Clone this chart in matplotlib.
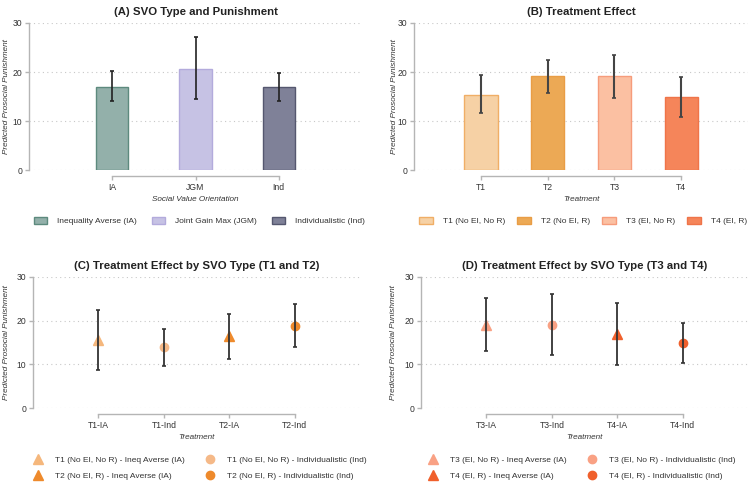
import matplotlib
matplotlib.use("Agg")
import matplotlib.pyplot as plt
from matplotlib.patches import Patch
from matplotlib.lines import Line2D
import numpy as np

plt.rcParams['font.family'] = ['Liberation Sans', 'DejaVu Sans']

# ---- data ----
svo_labels = ["IA", "JGM", "Ind"]
svo_names = ["Inequality Averse (IA)", "Joint Gain Max (JGM)", "Individualistic (Ind)"]
svo_mean = [17.0, 20.7, 16.9]
svo_lo = [14.0, 14.4, 14.1]
svo_hi = [20.2, 27.1, 19.8]

trt_labels = ["T1", "T2", "T3", "T4"]
trt_names = ["T1 (No EI, No R)", "T2 (No EI, R)", "T3 (EI, No R)", "T4 (EI, R)"]
trt_mean = [15.4, 19.1, 19.1, 14.8]
trt_lo = [11.6, 15.8, 14.7, 10.8]
trt_hi = [19.4, 22.4, 23.5, 18.9]

c_labels = ["T1-IA", "T1-Ind", "T2-IA", "T2-Ind"]
c_names = ["T1 (No EI, No R) - Ineq Averse (IA)", "T1 (No EI, No R) - Individualistic (Ind)",
           "T2 (No EI, R) - Ineq Averse (IA)", "T2 (No EI, R) - Individualistic (Ind)"]
c_mean = [15.5, 14.0, 16.5, 18.8]
c_lo = [8.6, 9.7, 11.2, 13.9]
c_hi = [22.4, 18.2, 21.6, 23.9]

d_labels = ["T3-IA", "T3-Ind", "T4-IA", "T4-Ind"]
d_names = ["T3 (EI, No R) - Ineq Averse (IA)", "T3 (EI, No R) - Individualistic (Ind)",
           "T4 (EI, R) - Ineq Averse (IA)", "T4 (EI, R) - Individualistic (Ind)"]
d_mean = [19.1, 19.1, 16.9, 14.8]
d_lo = [13.0, 12.2, 9.8, 10.2]
d_hi = [25.1, 26.0, 24.0, 19.5]

# ---- styles ----
svo_face = ["#93b0aa", "#c6c2e4", "#7f8198"]
svo_edge = ["#5d8a7e", "#b3abdc", "#55576f"]
trt_face = ["#f6d1a5", "#eca955", "#fbc0a2", "#f5855a"]
trt_edge = ["#f0ae66", "#e99d45", "#f69c7b", "#ef7449"]
c_col = ["#f5b77c", "#f5b988", "#ee8a2c", "#ee8a2c"]
d_col = ["#f9a184", "#f9a184", "#f0602c", "#f0602c"]
markers = ["^", "o", "^", "o"]
msizes = [6.5, 6.0, 6.5, 6.0]

W, H = 750, 482
fig = plt.figure(figsize=(7.5, 4.82), dpi=100)

def fx(px): return px / W
def fy(py): return 1 - py / H

axA = fig.add_axes([fx(29), fy(170), fx(362 - 29), fy(23) - fy(170)])
axB = fig.add_axes([fx(414), fy(170), fx(748 - 414), fy(23) - fy(170)])
axC = fig.add_axes([fx(33), fy(408), fx(360 - 33), fy(277) - fy(408)])
axD = fig.add_axes([fx(421), fy(408), fx(748 - 421), fy(277) - fy(408)])

spine_col = "#b5b5b5"
text_col = "#333333"

def style(ax, n, title, xlabel, ylab_off_px):
    ax.set_ylim(0, 30)
    ax.set_yticks([0, 10, 20, 30])
    ax.yaxis.grid(True, linestyle=(0, (1, 3)), color="#c8c8c8", linewidth=0.8)
    ax.set_axisbelow(True)
    for s in ["top", "right"]:
        ax.spines[s].set_visible(False)
    ax.spines["left"].set_bounds(0, 30)
    ax.spines["bottom"].set_bounds(0, n - 1)
    ax.spines["bottom"].set_position(("outward", 4.5))
    for s in ["left", "bottom"]:
        ax.spines[s].set_color(spine_col)
        ax.spines[s].set_linewidth(1.0)
    ax.tick_params(axis="both", colors=spine_col, labelcolor=text_col, labelsize=6.2, length=3, width=1.0, pad=2)
    ax.set_title(title, fontsize=8.2, fontweight="bold", color="#222222", pad=6)
    ax.set_ylabel("Predicted Prosocial Punishment", fontsize=5.9, style="italic", color=text_col)
    bbox = ax.get_position()
    ax.yaxis.set_label_coords(-ylab_off_px / (bbox.width * W), 0.5)
    ax.set_xlabel(xlabel, fontsize=5.9, style="italic", color=text_col, labelpad=3)

def add_legend(handles, cx, cy, ncol, colsp):
    fig.legend(handles=handles, loc="center", bbox_to_anchor=(fx(cx), fy(cy)), ncol=ncol, frameon=False,
               fontsize=6.0, handlelength=1.6, handleheight=0.9, columnspacing=colsp, handletextpad=1.2,
               labelspacing=0.9, borderpad=0, labelcolor=text_col)

# A
x = np.arange(len(svo_labels))
axA.bar(x, svo_mean, width=0.39, color=svo_face, edgecolor=svo_edge, linewidth=1.0, zorder=2)
axA.errorbar(x, svo_mean, yerr=[np.array(svo_mean) - np.array(svo_lo), np.array(svo_hi) - np.array(svo_mean)],
             fmt="none", ecolor="#222222", elinewidth=1.2, capsize=1.7, capthick=1.2, zorder=3)
axA.set_xlim(-1, 3)
axA.set_xticks(x)
axA.set_xticklabels(svo_labels)
style(axA, 3, "(A) SVO Type and Punishment", "Social Value Orientation", 19)
add_legend([Patch(facecolor=f, edgecolor=e, label=l) for f, e, l in zip(svo_face, svo_edge, svo_names)],
           199.5, 221, 3, 1.8)

# B
x = np.arange(len(trt_labels))
axB.bar(x, trt_mean, width=0.5, color=trt_face, edgecolor=trt_edge, linewidth=1.0, zorder=2)
axB.errorbar(x, trt_mean, yerr=[np.array(trt_mean) - np.array(trt_lo), np.array(trt_hi) - np.array(trt_mean)],
             fmt="none", ecolor="#444444", elinewidth=1.5, capsize=1.7, capthick=1.2, zorder=3)
axB.set_xlim(-1, 4)
axB.set_xticks(x)
axB.set_xticklabels(trt_labels)
style(axB, 4, "(B) Treatment Effect", "Treatment", 16)
add_legend([Patch(facecolor=f, edgecolor=e, label=l) for f, e, l in zip(trt_face, trt_edge, trt_names)],
           583, 221, 4, 1.5)

# C and D
def points(ax, labels, names, mean, lo, hi, cols, title, off, cx):
    x = np.arange(len(labels))
    for i in range(len(labels)):
        ax.plot(x[i], mean[i], marker=markers[i], color=cols[i], markersize=msizes[i], linestyle="none", zorder=2)
    ax.errorbar(x, mean, yerr=[np.array(mean) - np.array(lo), np.array(hi) - np.array(mean)],
                fmt="none", ecolor="#333333", elinewidth=1.3, capsize=1.7, capthick=1.2, zorder=3)
    ax.set_xlim(-1, 4)
    ax.set_xticks(x)
    ax.set_xticklabels(labels)
    style(ax, 4, title, "Treatment", off)
    order = [0, 2, 1, 3]
    handles = [Line2D([], [], marker=markers[i], color=cols[i], linestyle="none", markersize=msizes[i], label=names[i])
               for i in order]
    add_legend(handles, cx, 468, 2, 2.3)

points(axC, c_labels, c_names, c_mean, c_lo, c_hi, c_col, "(C) Treatment Effect by SVO Type (T1 and T2)", 23, 199)
points(axD, d_labels, d_names, d_mean, d_lo, d_hi, d_col, "(D) Treatment Effect by SVO Type (T3 and T4)", 24, 581)

fig.savefig("out.png", dpi=100)
